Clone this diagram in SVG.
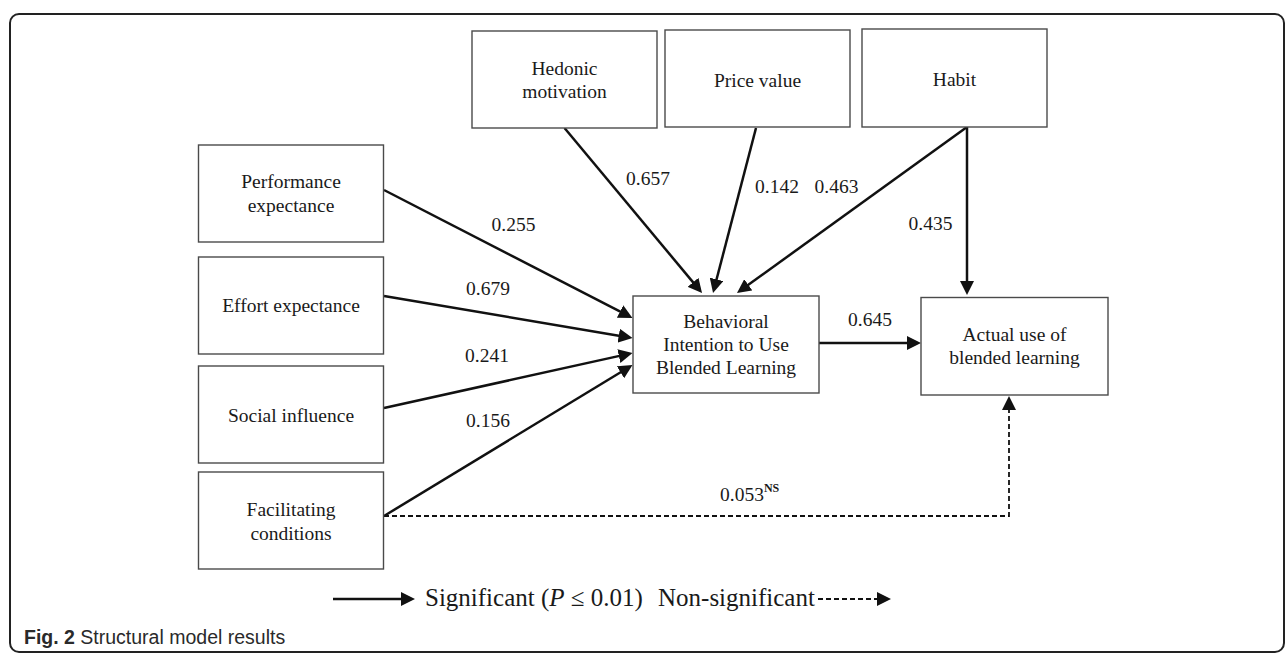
<svg xmlns="http://www.w3.org/2000/svg" width="1287" height="655" viewBox="0 0 1287 655">
  <style>
    .box { fill: #ffffff; stroke: #4a4a4a; stroke-width: 1.4; }
    .t { font-family: "Liberation Serif", "Times New Roman", serif; font-size: 19.5px; fill: #1a1a1a; text-anchor: middle; }
    .lbl { font-family: "Liberation Serif", "Times New Roman", serif; font-size: 19.5px; fill: #1a1a1a; }
    .leg { font-family: "Liberation Serif", "Times New Roman", serif; font-size: 25px; fill: #1a1a1a; }
    .sig { fill: none; stroke: #111111; stroke-width: 2.5; marker-end: url(#ah); }
    .ns { fill: none; stroke: #111111; stroke-width: 1.8; stroke-dasharray: 5 3; marker-end: url(#ah); }
    .cap { font-family: "Liberation Sans", Arial, sans-serif; font-size: 19.5px; fill: #2a2a2a; }
  </style>
  <defs>
    <marker id="ah" markerUnits="userSpaceOnUse" markerWidth="14" markerHeight="14" refX="3" refY="7" orient="auto">
      <path d="M0,0 L14,7 L0,14 z" fill="#111111"/>
    </marker>
  </defs>

  <rect x="0" y="0" width="1287" height="655" fill="#ffffff"/>
  <rect x="10" y="14" width="1274" height="638" rx="9" ry="9" fill="none" stroke="#222222" stroke-width="2"/>

  <g id="connectors">
    <line class="sig" x1="384" y1="190" x2="622.7" y2="312.9"/>
    <line class="sig" x1="384" y1="296" x2="621.7" y2="336.2"/>
    <line class="sig" x1="384" y1="408" x2="621.8" y2="355.4"/>
    <line class="sig" x1="384" y1="516" x2="623.1" y2="370.7"/>
    <line class="sig" x1="564.5" y1="128" x2="695.0" y2="284.6"/>
    <line class="sig" x1="756" y1="128" x2="715.8" y2="282.3"/>
    <line class="sig" x1="967" y1="127" x2="745.9" y2="286.6"/>
    <line class="sig" x1="967" y1="127" x2="967" y2="284"/>
    <line class="sig" x1="819" y1="343" x2="910" y2="343"/>
    <polyline class="ns" points="384,516 1009,516 1009,407"/>
    <text class="lbl" x="491.5" y="230.5">0.255</text>
    <text class="lbl" x="466" y="295">0.679</text>
    <text class="lbl" x="465" y="361.5">0.241</text>
    <text class="lbl" x="466" y="426.5">0.156</text>
    <text class="lbl" x="626" y="185">0.657</text>
    <text class="lbl" x="755" y="193">0.142</text>
    <text class="lbl" x="814.5" y="193">0.463</text>
    <text class="lbl" x="908.5" y="230">0.435</text>
    <text class="lbl" x="848" y="326">0.645</text>
    <text class="lbl" x="720" y="501">0.053<tspan font-size="12" font-weight="bold" dy="-9">NS</tspan></text>
  </g>

  <g id="hedonic">
    <rect class="box" x="472" y="31" width="185" height="97"/>
    <text class="t" x="564.5" y="75">Hedonic</text>
    <text class="t" x="564.5" y="98">motivation</text>
  </g>
  <g id="price">
    <rect class="box" x="665" y="30" width="185" height="97"/>
    <text class="t" x="757.5" y="86.5">Price value</text>
  </g>
  <g id="habit">
    <rect class="box" x="862" y="29" width="185" height="98"/>
    <text class="t" x="954.5" y="86">Habit</text>
  </g>
  <g id="performance">
    <rect class="box" x="198.5" y="145" width="185" height="97"/>
    <text class="t" x="291" y="188">Performance</text>
    <text class="t" x="291" y="212">expectance</text>
  </g>
  <g id="effort">
    <rect class="box" x="198.5" y="257" width="185" height="97"/>
    <text class="t" x="291" y="311.5">Effort expectance</text>
  </g>
  <g id="social">
    <rect class="box" x="198.5" y="366" width="185" height="97"/>
    <text class="t" x="291" y="421.5">Social influence</text>
  </g>
  <g id="facilitating">
    <rect class="box" x="198.5" y="472" width="185" height="97"/>
    <text class="t" x="291" y="516">Facilitating</text>
    <text class="t" x="291" y="539.5">conditions</text>
  </g>
  <g id="intention">
    <rect class="box" x="633" y="296" width="186" height="97"/>
    <text class="t" x="726" y="328">Behavioral</text>
    <text class="t" x="726" y="351">Intention to Use</text>
    <text class="t" x="726" y="374">Blended Learning</text>
  </g>
  <g id="actual">
    <rect class="box" x="921" y="297.5" width="187" height="97.5"/>
    <text class="t" x="1014.5" y="341">Actual use of</text>
    <text class="t" x="1014.5" y="364">blended learning</text>
  </g>

  <g id="legend">
    <line class="sig" x1="333" y1="599" x2="404" y2="599"/>
    <text class="leg" x="425" y="606">Significant (<tspan font-style="italic">P</tspan> ≤ 0.01)</text>
    <text class="leg" x="658" y="606">Non-significant</text>
    <line class="ns" x1="818" y1="599" x2="880" y2="599"/>
  </g>

  <text class="cap" x="24" y="644"><tspan font-weight="bold">Fig. 2</tspan> Structural model results</text>
</svg>
